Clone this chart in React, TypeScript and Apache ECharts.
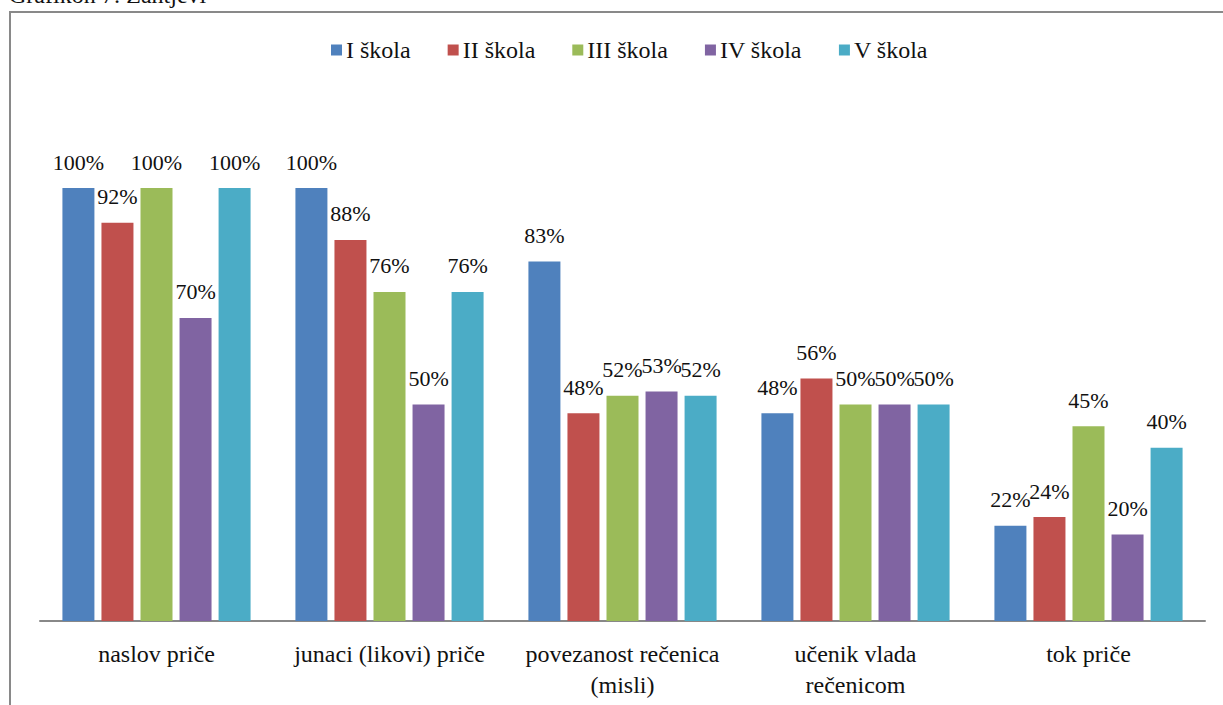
import React, { useEffect, useRef } from "react";
import * as echarts from "echarts";

const categories = [
  "naslov priče",
  "junaci (likovi) priče",
  "povezanost rečenica\n(misli)",
  "učenik vlada\nrečenicom",
  "tok priče",
];
const seriesNames = ["I škola", "II škola", "III škola", "IV škola", "V škola"];
const school1 = [100, 100, 83, 48, 22];
const school2 = [92, 88, 48, 56, 24];
const school3 = [100, 76, 52, 50, 45];
const school4 = [70, 50, 53, 50, 20];
const school5 = [100, 76, 52, 50, 40];
const colors = ["#4F81BD", "#C0504D", "#9BBB59", "#8064A2", "#4BACC6"];
const titleText = "Grafikon 7: Zahtjevi";

const FONT = "Liberation Serif";

export default function App() {
  const ref = useRef<HTMLDivElement>(null);
  useEffect(() => {
    if (!ref.current) return;
    const chart = echarts.init(ref.current, undefined, { renderer: "svg" });
    const data = [school1, school2, school3, school4, school5];
    chart.setOption({
      animation: false,
      textStyle: { fontFamily: FONT },
      graphic: [
        {
          type: "rect",
          shape: { x: 10, y: 12, width: 1240, height: 720 },
          style: { fill: "none", stroke: "#898989", lineWidth: 2 },
          silent: true,
        },
        {
          type: "text",
          x: 9,
          y: 7,
          style: {
            text: titleText,
            fontFamily: FONT,
            fontSize: 24,
            fill: "#111",
            verticalAlign: "bottom",
          },
        },
      ],
      legend: {
        top: 33,
        left: 326,
        itemWidth: 11,
        itemHeight: 11,
        itemGap: 37,
        icon: "rect",
        textStyle: { fontFamily: FONT, fontSize: 24, color: "#111", padding: [0, 0, 0, -1] },
        data: seriesNames,
      },
      grid: { left: 40, right: 18, top: 188, bottom: 84 },
      xAxis: {
        type: "category",
        data: categories,
        axisLine: { lineStyle: { color: "#888", width: 2 } },
        axisTick: { show: false },
        axisLabel: {
          fontFamily: FONT,
          fontSize: 24,
          color: "#111",
          margin: 17,
          lineHeight: 31,
          interval: 0,
        },
      },
      yAxis: {
        type: "value",
        min: 0,
        max: 100,
        show: false,
        splitLine: { show: false },
      },
      series: data.map((d, i) => ({
        name: seriesNames[i],
        type: "bar",
        data: d,
        barWidth: 32,
        barGap: "22%",
        itemStyle: { color: colors[i] },
        label: {
          show: true,
          position: "top",
          distance: 15,
          formatter: "{c}%",
          fontFamily: FONT,
          fontSize: 22,
          color: "#111",
        },
      })),
    });
    return () => chart.dispose();
  }, []);
  return (
    <div
      ref={ref}
      style={{ position: "fixed", left: 0, top: 0, width: 1223, height: 705, background: "#fff" }}
    />
  );
}
